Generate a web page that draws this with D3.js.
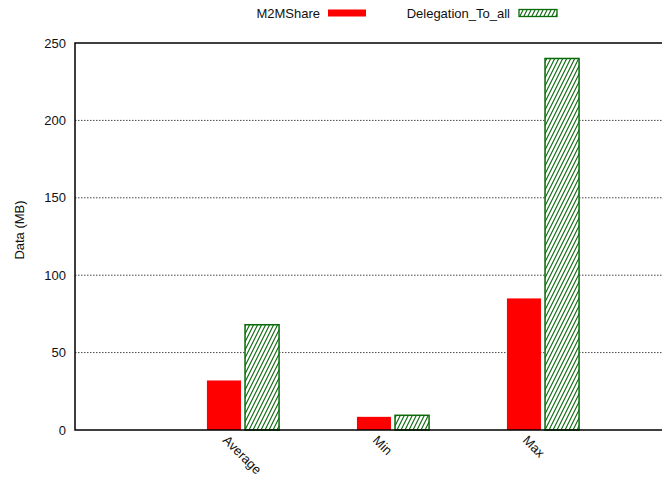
<!DOCTYPE html>
<html>
<head>
<meta charset="utf-8">
<script src="https://cdn.jsdelivr.net/npm/d3@7"></script>
<style>
  html, body { margin: 0; padding: 0; background: #fff; }
  svg { display: block; }
  text { font-family: "Liberation Sans", Arial, Helvetica, sans-serif; fill: #111; }
</style>
</head>
<body>
<svg id="chart" width="662" height="477"></svg>
<script>
// Data transferred per scenario (MB)
const categories = ["Average", "Min", "Max"];
const seriesNames = ["M2MShare", "Delegation_To_all"];
const m2mShare = [32, 8.5, 85];
const delegationToAll = [68, 9.5, 240];
const yTicks = [0, 50, 100, 150, 200, 250];

const svg = d3.select("#chart");
const W = 662, H = 477;
const plot = { left: 75, top: 43, bottom: 430, right: 663 };

const y = d3.scaleLinear().domain([0, 250]).range([plot.bottom, plot.top]);
// category index positions, with the x range running past the right edge
const x = d3.scaleLinear().domain([-1.12, 2.8]).range([plot.left, plot.right]);
const barW = x(0.227) - x(0);
const barOff = x(0.127) - x(0);

// diagonal hatch used for the second series
const defs = svg.append("defs");
const pat = defs.append("pattern")
  .attr("id", "hatch")
  .attr("patternUnits", "userSpaceOnUse")
  .attr("width", 4).attr("height", 8);
pat.append("rect").attr("width", 4).attr("height", 8).attr("fill", "#fff");
pat.append("path")
  .attr("d", "M-1,10 L5,-2 M-5,10 L1,-2 M3,10 L9,-2")
  .attr("stroke", "#0a6a0a").attr("stroke-width", 1.1);

// horizontal dotted grid
svg.append("g").selectAll("line")
  .data(yTicks.filter(d => d > 0 && d < 250))
  .join("line")
  .attr("x1", plot.left).attr("x2", W)
  .attr("y1", d => y(d)).attr("y2", d => y(d))
  .attr("stroke", "#444").attr("stroke-width", 1)
  .attr("stroke-dasharray", "1.5,1.5");

// bars
const gBars = svg.append("g");
gBars.selectAll("rect.m2m")
  .data(m2mShare)
  .join("rect")
  .attr("class", "m2m")
  .attr("x", (d, i) => x(i) - barOff - barW / 2)
  .attr("width", barW)
  .attr("y", d => y(d))
  .attr("height", d => y(0) - y(d))
  .attr("fill", "#ff0000");

gBars.selectAll("rect.deleg")
  .data(delegationToAll)
  .join("rect")
  .attr("class", "deleg")
  .attr("x", (d, i) => x(i) + barOff - barW / 2)
  .attr("width", barW)
  .attr("y", d => y(d))
  .attr("height", d => y(0) - y(d))
  .attr("fill", "url(#hatch)")
  .attr("stroke", "#0a6a0a").attr("stroke-width", 1.5);

// plot border: left, top, bottom
svg.append("path")
  .attr("d", `M${W},${plot.top} H${plot.left} V${plot.bottom} H${W}`)
  .attr("fill", "none").attr("stroke", "#000").attr("stroke-width", 1.5);

// y axis labels
const yAxis = d3.axisLeft(y).tickValues(yTicks).tickSize(0).tickPadding(9);
const gy = svg.append("g").attr("transform", `translate(${plot.left},0)`).call(yAxis);
gy.select(".domain").remove();
gy.selectAll("text")
  .style("font-family", "'Liberation Sans', Arial, sans-serif")
  .style("font-size", "13px").attr("fill", "#111");

// x category labels, rotated
svg.append("g").selectAll("text")
  .data(categories)
  .join("text")
  .attr("transform", (d, i) => `translate(${x(i) - 21},${plot.bottom + 11}) rotate(45)`)
  .attr("text-anchor", "start")
  .style("font-size", "13px")
  .text(d => d);

// y axis title
svg.append("text")
  .attr("transform", `translate(24,230) rotate(-90)`)
  .attr("text-anchor", "middle")
  .style("font-size", "13px")
  .text("Data (MB)");

// legend
const legend = [
  { name: seriesNames[0], textEnd: 320, sx: 328, fill: "#ff0000", stroke: "none" },
  { name: seriesNames[1], textEnd: 510, sx: 519, fill: "url(#hatch)", stroke: "#0a6a0a" }
];
const gl = svg.append("g");
gl.selectAll("text").data(legend).join("text")
  .attr("x", d => d.textEnd).attr("y", 18)
  .attr("text-anchor", "end")
  .style("font-size", "13px")
  .text(d => d.name);
gl.selectAll("rect").data(legend).join("rect")
  .attr("x", d => d.sx).attr("y", 9.5)
  .attr("width", 38).attr("height", 7)
  .attr("fill", d => d.fill)
  .attr("stroke", d => d.stroke).attr("stroke-width", 1.3);
</script>
</body>
</html>
